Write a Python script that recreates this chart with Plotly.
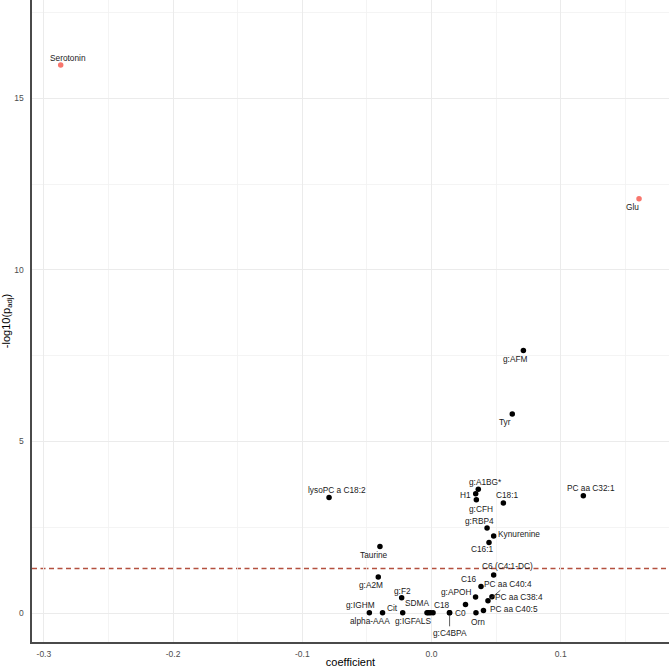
import math
import plotly.graph_objects as go

# ---- data ----
names = ["Serotonin", "Glu", "g:AFM", "Tyr", "PC aa C32:1", "lysoPC a C18:2",
         "g:A1BG*", "H1", "g:CFH", "C18:1", "g:RBP4", "Kynurenine", "C16:1",
         "Taurine", "C6 (C4:1-DC)", "g:A2M", "C16", "g:APOH", "PC aa C38:4",
         "PC aa C40:4", "g:F2", "C0", "PC aa C40:5", "Orn", "C18", "g:C4BPA",
         "g:IGHM", "alpha-AAA", "Cit", "g:IGFALS", "SDMA", "", ""]
coef = [-0.287, 0.1606, 0.0711, 0.0625, 0.1175, -0.0793,
        0.0362, 0.0342, 0.0347, 0.0556, 0.0430, 0.0481, 0.0445,
        -0.0399, 0.0481, -0.0412, 0.0383, 0.0341, 0.0468,
        0.0437, -0.0231, 0.0263, 0.0402, 0.0344, 0.0139, 0.0140,
        -0.0481, -0.0379, -0.0223, -0.0035, -0.0023, -0.0008, 0.0012]
neglogp = [15.97, 12.07, 7.65, 5.80, 3.42, 3.37,
           3.61, 3.48, 3.30, 3.21, 2.48, 2.25, 2.06,
           1.94, 1.11, 1.05, 0.78, 0.47, 0.48,
           0.36, 0.45, 0.25, 0.08, 0.01, 0.01, 0.01,
           0.01, 0.01, 0.01, 0.01, 0.01, 0.01, 0.01]
highlight = ["Serotonin", "Glu"]

x_tick_vals = [-0.3, -0.2, -0.1, 0.0, 0.1]
x_tick_text = ["-0.3", "-0.2", "-0.1", "0.0", "0.1"]
y_tick_vals = [0, 5, 10, 15]
y_tick_text = ["0", "5", "10", "15"]
x_minor_vals = [-0.25, -0.15, -0.05, 0.05, 0.15]
y_minor_vals = [2.5, 7.5, 12.5, 17.5]
alpha = 0.05

# label offsets in pixels (dx right, dy down) and whether a leader line is drawn
label_style = {
    "Serotonin": (7, -7, False), "Glu": (-7, 8, False), "g:AFM": (-8, 8, False),
    "Tyr": (-7, 8, False), "PC aa C32:1": (8, -8, False),
    "lysoPC a C18:2": (8, -7, False), "g:A1BG*": (7, -7, False),
    "H1": (-10, 1, False), "g:CFH": (5, 9, False), "C18:1": (4, -8, False),
    "g:RBP4": (-8, -7, False), "Kynurenine": (25, -2, False),
    "C16:1": (-7, 7, False), "Taurine": (-6, 8, False),
    "C6 (C4:1-DC)": (14, -9, False), "g:A2M": (-7, 8, False),
    "C16": (-12, -7, False), "g:APOH": (-20, -5, False),
    "PC aa C38:4": (27, 0, True), "PC aa C40:4": (20, -17, True),
    "g:F2": (1, -7, False), "C0": (-5, 8, False), "PC aa C40:5": (31, -1, False),
    "Orn": (2, 9, False), "C18": (-7, -8, False), "g:C4BPA": (0, 20, True),
    "g:IGHM": (-9, -8, False), "alpha-AAA": (-13, 8, False),
    "Cit": (-10, -5, False), "g:IGFALS": (-14, 8, False), "SDMA": (-12, -10, False),
}

FONT = "Liberation Sans, Arial, sans-serif"

fig = go.Figure()

blk_x = [c for c, n in zip(coef, names) if n not in highlight]
blk_y = [v for v, n in zip(neglogp, names) if n not in highlight]
red_x = [c for c, n in zip(coef, names) if n in highlight]
red_y = [v for v, n in zip(neglogp, names) if n in highlight]

fig.add_trace(go.Scatter(x=blk_x, y=blk_y, mode="markers",
                         marker=dict(color="black", size=5.5), showlegend=False,
                         hoverinfo="skip"))
fig.add_trace(go.Scatter(x=red_x, y=red_y, mode="markers",
                         marker=dict(color="#F8766D", size=5.5), showlegend=False,
                         hoverinfo="skip"))

# significance threshold
thr = -math.log10(alpha)
fig.add_shape(type="line", xref="paper", x0=0, x1=1, yref="y", y0=thr, y1=thr,
              line=dict(color="#b4503f", width=1.4, dash="5px,3.5px"), layer="between")

for n, cx, cy in zip(names, coef, neglogp):
    if not n:
        continue
    dx, dy, leader = label_style[n]
    if leader:
        fig.add_annotation(x=cx, y=cy, text=n, showarrow=True, arrowhead=0,
                           arrowwidth=0.8, arrowcolor="#333", ax=dx, ay=dy,
                           standoff=3, font=dict(family=FONT, size=8.3, color="#1a1a1a"))
    else:
        fig.add_annotation(x=cx, y=cy, text=n, showarrow=False,
                           xshift=dx, yshift=-dy,
                           font=dict(family=FONT, size=8.3, color="#1a1a1a"))

fig.update_layout(
    width=669, height=668,
    margin=dict(l=32, r=0, t=0, b=26),
    paper_bgcolor="white", plot_bgcolor="white",
    font=dict(family=FONT),
    showlegend=False,
    hovermode=False,
)
fig.update_xaxes(
    range=[-0.3092, 0.1838], tickmode="array", tickvals=x_tick_vals, ticktext=x_tick_text,
    showgrid=True, gridcolor="#ebebeb", gridwidth=1, zeroline=False,
    minor=dict(tickmode="array", tickvals=x_minor_vals, showgrid=True,
               gridcolor="#f1f1f1", gridwidth=0.8),
    showline=True, linecolor="#4a4a4a", linewidth=1.6, ticks="",
    ticklabelstandoff=3,
    tickfont=dict(family=FONT, size=8.5, color="#4d4d4d"),
    title=dict(text="coefficient", font=dict(family=FONT, size=11, color="black"), standoff=2),
    automargin=False,
)
fig.update_yaxes(
    range=[-0.84, 17.86], tickmode="array", tickvals=y_tick_vals, ticktext=y_tick_text,
    showgrid=True, gridcolor="#ebebeb", gridwidth=1, zeroline=False,
    minor=dict(tickmode="array", tickvals=y_minor_vals, showgrid=True,
               gridcolor="#f1f1f1", gridwidth=0.8),
    showline=True, linecolor="#4a4a4a", linewidth=1.6, ticks="",
    ticklabelstandoff=5,
    tickfont=dict(family=FONT, size=8.5, color="#4d4d4d"),
    title=dict(text="-log10(p<sub>adj</sub>)", font=dict(family=FONT, size=11, color="black"), standoff=4),
    automargin=False,
)

fig.write_html("out.html",
               config={"displayModeBar": False, "staticPlot": True},
               post_script="document.body.style.margin='0';document.body.style.overflow='hidden';")
